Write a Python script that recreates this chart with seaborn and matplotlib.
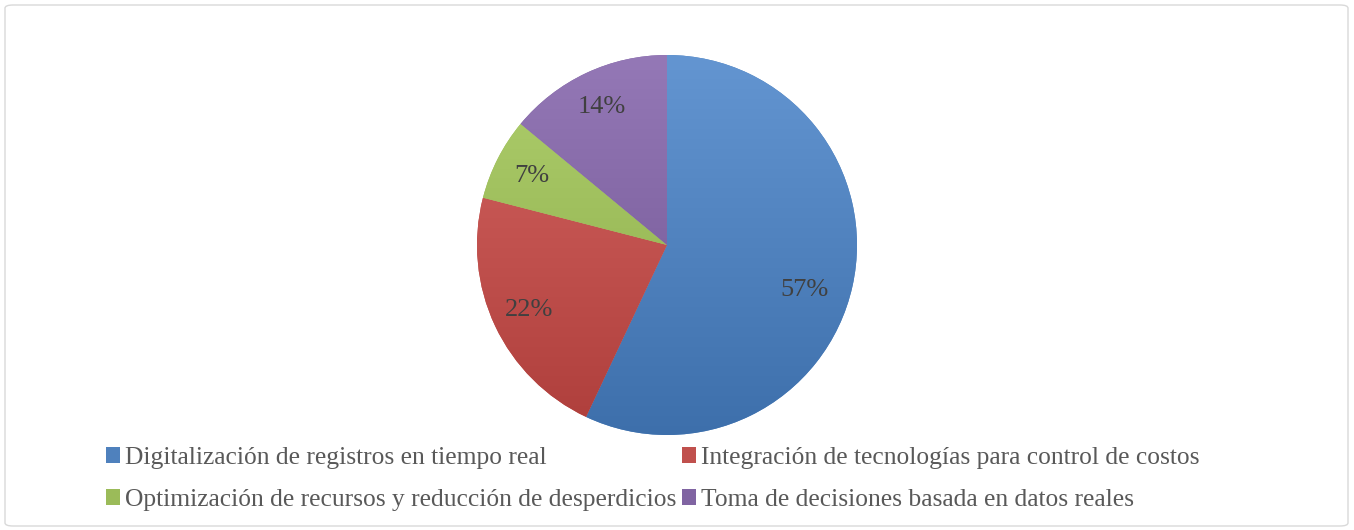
import numpy as np
import matplotlib
matplotlib.use("Agg")
import matplotlib.pyplot as plt
import seaborn as sns
from matplotlib.patches import Patch, FancyBboxPatch
from matplotlib.colors import to_rgb

sns.set_theme(style="white")
plt.rcParams['font.family'] = ['Liberation Serif', 'DejaVu Serif']

# data
categories = [
    "Digitalización de registros en tiempo real",
    "Integración de tecnologías para control de costos",
    "Optimización de recursos y reducción de desperdicios",
    "Toma de decisiones basada en datos reales",
]
shares = [57, 22, 7, 14]
colors = ["#4F81BD", "#C0504D", "#9BBB59", "#8064A2"]

fig = plt.figure(figsize=(13.54, 5.30), dpi=100)
W, H = 1354, 530

# outer chart frame
frame = FancyBboxPatch((5 / W, 4 / H), 1343 / W, 521 / H,
                       boxstyle="round,pad=0,rounding_size=0.006",
                       transform=fig.transFigure, fill=False,
                       edgecolor="#D9D9D9", linewidth=1.0)
fig.patches.append(frame)

# pie axes: centre (667, 245) px, radius 190 px
cx, cy, r = 667, 530 - 245, 190
ax = fig.add_axes([(cx - r) / W, (cy - r) / H, 2 * r / W, 2 * r / H])

wedges, texts, autotexts = ax.pie(
    shares, colors=colors, startangle=90, counterclock=False,
    autopct="%1.0f%%", pctdistance=0.8,
    wedgeprops=dict(linewidth=0),
    textprops=dict(fontsize=19, color="#404040"),
)
ax.set_xlim(-1, 1)
ax.set_ylim(-1, 1)
ax.set_aspect("equal")
ax.axis("off")

# the big slice's label sits a bit lower and closer in, like Excel's best fit
ang = np.deg2rad(-18)
autotexts[0].set_position((0.76 * np.cos(ang), 0.76 * np.sin(ang)))

# vertical gradient fill, lighter at top, darker at bottom
yy = np.linspace(1, 0, 256)[:, None]
for w, c in zip(wedges, colors):
    base = np.array(to_rgb(c))
    top = np.clip(base + 0.08, 0, 1)
    bot = np.clip(base - 0.07, 0, 1)
    img = (bot[None, None, :] + (top - bot)[None, None, :] * yy[:, :, None])
    img = np.repeat(img, 2, axis=1)
    im = ax.imshow(img, extent=(-1, 1, -1, 1), origin="upper", zorder=w.get_zorder() + 0.1,
                   aspect="auto", interpolation="bilinear")
    im.set_clip_path(w)
for t in autotexts:
    t.set_zorder(5)

# legend, row-major order like the reference
handles = [Patch(facecolor=c, edgecolor="none") for c in colors]
order = [0, 2, 1, 3]
leg = fig.legend([handles[i] for i in order], [categories[i] for i in order],
                 ncol=2, loc="upper left", bbox_to_anchor=(106 / W, 1 - 447 / H),
                 frameon=False, fontsize=18.4, handlelength=0.55, handleheight=0.55,
                 handletextpad=0.2, columnspacing=0.2, labelspacing=0.78,
                 borderaxespad=0, borderpad=0)
for t in leg.get_texts():
    t.set_color("#595959")

fig.savefig("out.png", dpi=100)
